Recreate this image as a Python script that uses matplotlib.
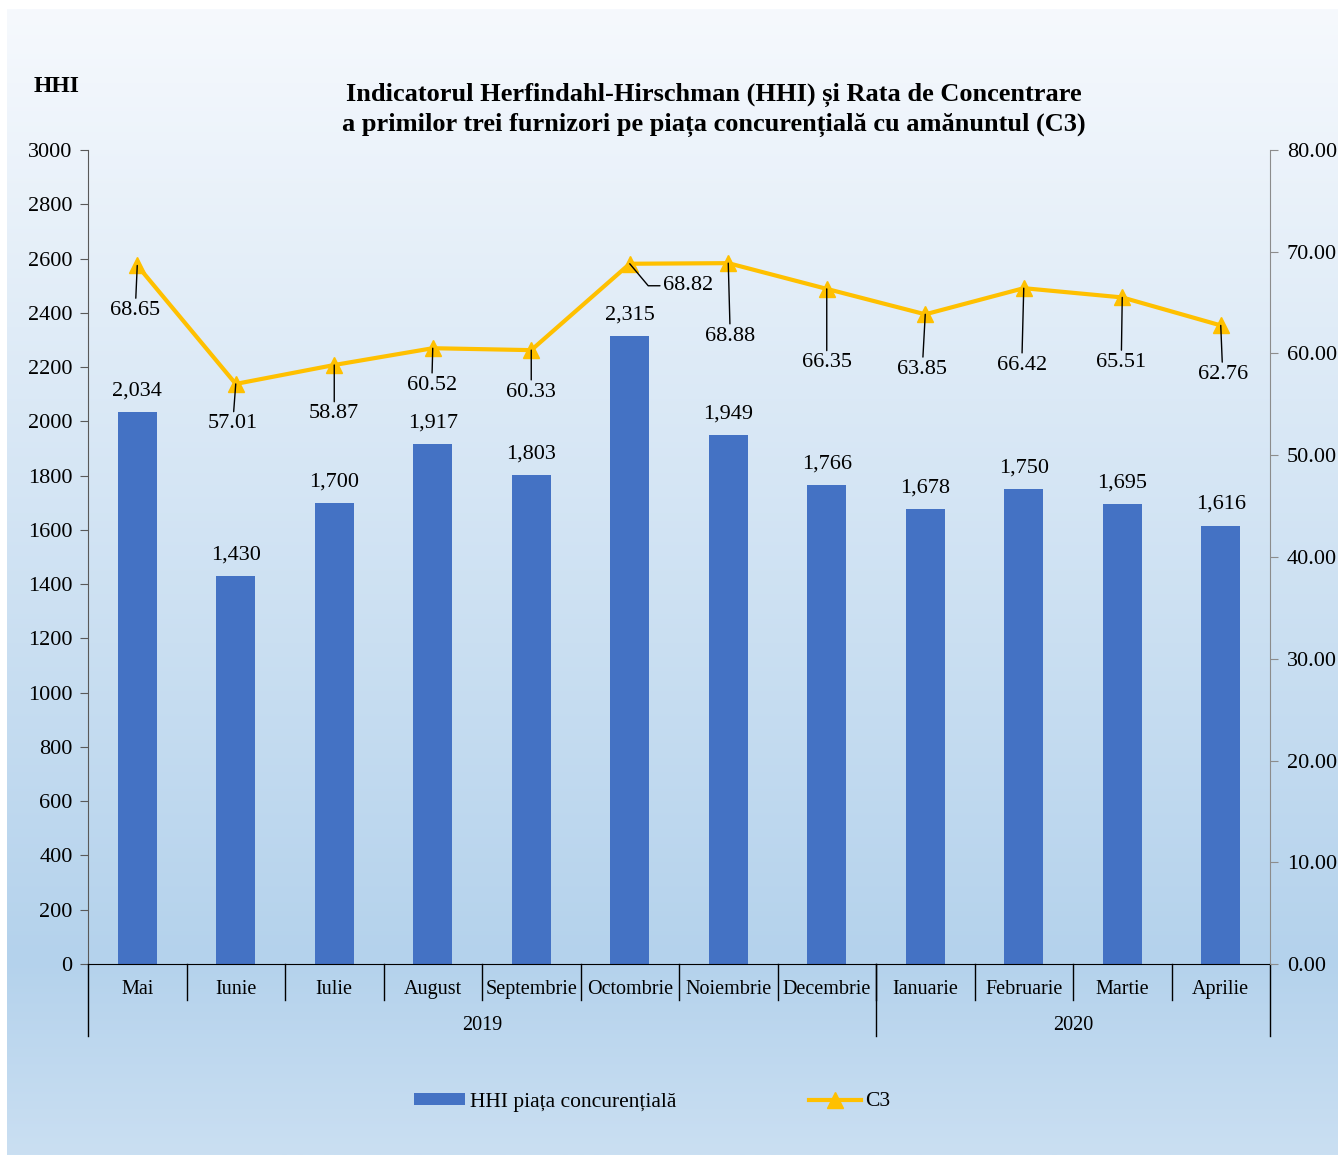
import numpy as np
import matplotlib
matplotlib.use("Agg")
import matplotlib.pyplot as plt
from matplotlib.patches import Patch
from matplotlib.lines import Line2D
import matplotlib.transforms as mtransforms

plt.rcParams['font.family'] = ['Liberation Serif', 'DejaVu Serif']

months = ['Mai', 'Iunie', 'Iulie', 'August', 'Septembrie', 'Octombrie', 'Noiembrie',
          'Decembrie', 'Ianuarie', 'Februarie', 'Martie', 'Aprilie']
years = ['2019', '2020']
year_counts = [8, 4]
hhi = [2034, 1430, 1700, 1917, 1803, 2315, 1949, 1766, 1678, 1750, 1695, 1616]
c3 = [68.65, 57.01, 58.87, 60.52, 60.33, 68.82, 68.88, 66.35, 63.85, 66.42, 65.51, 62.76]

# label offsets for C3 (pixels from the point)
c3_offsets = [(-2, -45), (-3, -40), (0, -49), (-1, -37), (0, -42), (59, -22),
              (2, -73), (0, -74), (-3, -55), (-2, -77), (-1, -65), (2, -49)]

W, H = 1338, 1155
fig = plt.figure(figsize=(W / 100, H / 100), dpi=100)
fig.patch.set_facecolor('white')

# gradient background
bg = fig.add_axes([7 / W, 0, 1 - 7 / W, (H - 9) / H])
bg.set_zorder(0)
rows = np.linspace(9, H, 400)
top_c = np.array([246, 249, 253]) / 255
mid_c = np.array([180, 210, 236]) / 255
bot_c = np.array([202, 223, 242]) / 255
grad = np.zeros((len(rows), 1, 3))
for k, r in enumerate(rows):
    if r <= 960:
        t = (r - 9) / (960 - 9)
        grad[k, 0] = top_c + (mid_c - top_c) * t
    else:
        t = (r - 960) / (H - 960)
        grad[k, 0] = mid_c + (bot_c - mid_c) * t
bg.imshow(grad, aspect='auto', extent=(0, 1, 0, 1), origin='upper')
bg.axis('off')

ax = fig.add_axes([88 / W, (H - 964) / H, (1270 - 88) / W, (964 - 150) / H])
ax.set_zorder(1)
ax.patch.set_visible(False)
x = np.arange(len(months))
bars = ax.bar(x, hhi, width=0.4, color='#4472C4', zorder=2)
ax.set_xlim(-0.5, len(months) - 0.5)
ax.set_ylim(0, 3000)
ax.set_yticks(np.arange(0, 3001, 200))
ax.tick_params(axis='y', labelsize=16, direction='out', length=6, color='#595959', pad=5)
ax.set_xticks([])
for s in ['top', 'right']:
    ax.spines[s].set_visible(False)
ax.spines['left'].set_color('#595959')
ax.spines['bottom'].set_color('black')

for xi, v in zip(x, hhi):
    ax.annotate(f'{v:,}', (xi, v), xytext=(0, 21), textcoords='offset pixels',
                ha='center', va='center', fontsize=16)

# category axis with dividers
tr = mtransforms.blended_transform_factory(ax.transData, ax.transAxes)
for xi, m in zip(x, months):
    ax.text(xi, -0.031, m, transform=tr, ha='center', va='center', fontsize=14.5)
for i in range(1, len(months)):
    ax.plot([i - 0.5, i - 0.5], [0, -0.044], transform=tr, color='black', lw=1, clip_on=False)
start = 0
ax.plot([-0.5, -0.5], [0, -0.088], transform=tr, color='black', lw=1, clip_on=False)
for yr, cnt in zip(years, year_counts):
    end = start + cnt
    ax.plot([end - 0.5, end - 0.5], [0, -0.088], transform=tr, color='black', lw=1, clip_on=False)
    ax.text((start + end - 1) / 2, -0.075, yr, transform=tr, ha='center', va='center', fontsize=14.5)
    start = end

ax2 = ax.twinx()
ax2.set_ylim(0, 80)
ax2.set_yticks(np.arange(0, 81, 10))
ax2.yaxis.set_major_formatter(plt.FormatStrFormatter('%.2f'))
ax2.tick_params(axis='y', labelsize=16, direction='out', length=6, color='#8c8c8c', pad=6)
for s in ['top', 'left', 'bottom']:
    ax2.spines[s].set_visible(False)
ax2.spines['right'].set_color('#8c8c8c')
ax2.plot(x, c3, color='#FFC000', lw=3, marker='^', markersize=11, zorder=3)

for xi, v, off in zip(x, c3, c3_offsets):
    if off[0] > 30:
        cs = 'angle,angleA=0,angleB=-50,rad=0'
        rel = (0, 0.5)
        ha = 'left'
        off = (off[0] - 26, off[1])
    else:
        cs = 'arc3'
        rel = (0.5, 0.5)
        ha = 'center'
    ax2.annotate(f'{v:.2f}', (xi, v), xytext=off, textcoords='offset pixels',
                 ha=ha, va='center', fontsize=16,
                 arrowprops=dict(arrowstyle='-', color='black', lw=1, relpos=rel,
                                 connectionstyle=cs, shrinkA=0, shrinkB=0))

fig.text(714 / W, 1 - 110 / H,
         'Indicatorul Herfindahl-Hirschman (HHI) și Rata de Concentrare\n'
         'a primilor trei furnizori pe piața concurențială cu amănuntul (C3)',
         ha='center', va='center', fontsize=19, fontweight='bold', linespacing=1.3)
fig.text(57 / W, 1 - 87 / H, 'HHI', ha='center', va='center', fontsize=17, fontweight='bold')

handles = [Patch(facecolor='#4472C4', edgecolor='none'),
           Line2D([], [], color='#FFC000', lw=3, marker='^', markersize=11)]
fig.legend(handles, ['HHI piața concurențială', 'C3'], loc='center',
           bbox_to_anchor=(652 / W, 1 - 1102 / H), ncol=2, frameon=False,
           fontsize=15.5, handlelength=2.4, handleheight=0.5, columnspacing=6.2,
           handletextpad=0.2)

fig.savefig('out.png', dpi=100)
